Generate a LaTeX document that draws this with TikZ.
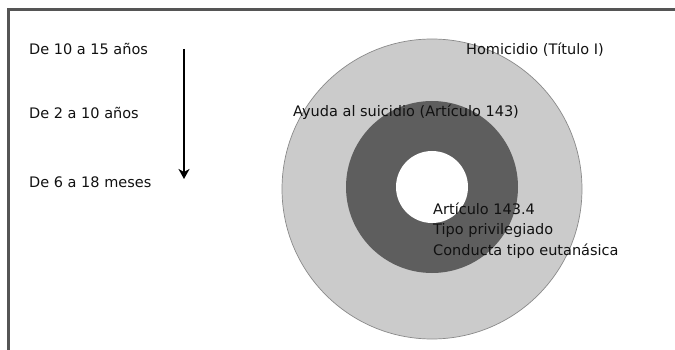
\documentclass[tikz,border=0pt]{standalone}
\usepackage{fontspec}
\setmainfont{DejaVu Sans}
\usetikzlibrary{arrows.meta}
\definecolor{framegray}{HTML}{555555}
\definecolor{outerring}{HTML}{CBCBCB}
\definecolor{outeredge}{HTML}{8A8A8A}
\definecolor{innerring}{HTML}{5E5E5E}
\definecolor{txt}{HTML}{111111}
\begin{document}
\begin{tikzpicture} [x=1pt, y=-1pt,
  lbl/.style={anchor=base west, inner sep=0pt, text=txt, font=\fontsize{14.5}{20.5}\selectfont}]
\useasboundingbox (0,0) rectangle (675,350);
\draw[framegray, line width=3pt] (8,350) -- (8,9.5) -- (675,9.5);

\fill[outerring, draw=outeredge, line width=0.7pt] (432,189) circle (150pt);
\fill[innerring] (432,187) circle (86pt);
\fill[white] (432,187) circle (36pt);

\foreach \n/\y/\t in {age1/55/De 10 a 15 años, age2/119/De 2 a 10 años, age3/188/De 6 a 18 meses}
\node[lbl] (\n) at (29,\y) {\t};

\coordinate (arrtop) at (184,49);
\coordinate (arrbot) at (184,179);
\draw[line width=2pt, -{Stealth[length=10pt, width=11pt, inset=3pt]}] (arrtop) -- (arrbot);

\node[lbl] (homicidio) at (466,55) {Homicidio (Título I)};
\node[lbl] (ayuda) at (293,117) {Ayuda al suicidio (Artículo 143)};
\node[lbl, align=left] (articulo) at (433,255) {Artículo 143.4\\Tipo privilegiado\\Conducta tipo eutanásica};

\end{tikzpicture}
\end{document}
